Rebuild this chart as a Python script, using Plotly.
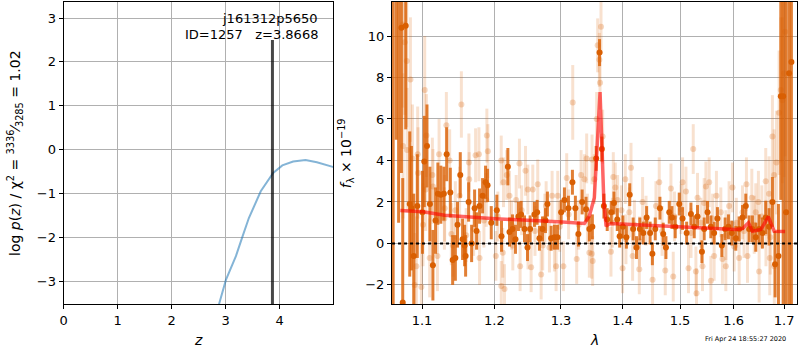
import numpy as np
import plotly.graph_objects as go

# ---------------- data ----------------
pz_z = [2.80, 2.881, 3.005, 3.19, 3.31, 3.43, 3.65, 3.88, 4.05, 4.25, 4.48, 4.69, 5.0]
pz_logp = [-4.10, -3.51, -2.97, -2.43, -1.99, -1.56, -0.95, -0.53, -0.36, -0.27, -0.235, -0.29, -0.40]
z_best = 3.8668
z_line_top = 2.5
left_xticks = [0, 1, 2, 3, 4]
left_yticks = [-3, -2, -1, 0, 1, 2, 3]

dark_wave = [1.0625, 1.0665, 1.0695, 1.0731, 1.0748, 1.0787, 1.0839, 1.0861, 1.0891, 1.0938,
             1.1006, 1.1030, 1.1066, 1.1105, 1.1145, 1.1181, 1.1212, 1.1252, 1.1293, 1.1331,
             1.1381, 1.1413, 1.1450, 1.1480, 1.1518, 1.1550, 1.1578, 1.1592, 1.1634, 1.1676,
             1.1718, 1.1746, 1.1788, 1.1831, 1.1873, 1.1902, 1.1955, 1.2035, 1.2103, 1.2196,
             1.2220, 1.2264, 1.2308, 1.2352, 1.2392, 1.2442, 1.2487, 1.2527, 1.2592, 1.2633,
             1.2668, 1.2714, 1.2760, 1.2790, 1.2847, 1.2898, 1.2945, 1.3003, 1.3054, 1.3117,
             1.3180, 1.3227, 1.3275, 1.3335, 1.3398, 1.3451, 1.3500, 1.3562, 1.3617, 1.3655,
             1.3688, 1.3743, 1.3810, 1.3855, 1.3910, 1.3950, 1.4005, 1.4063, 1.4120, 1.4178,
             1.4235, 1.4293, 1.4352, 1.4410, 1.4470, 1.4510, 1.4560, 1.4642, 1.4700, 1.4748,
             1.4807, 1.4855, 1.4914, 1.4986, 1.5046, 1.5120, 1.5198, 1.5258, 1.5319, 1.5400,
             1.5442, 1.5504, 1.5566, 1.5628, 1.5690, 1.5773, 1.5836, 1.5899, 1.5963, 1.6040,
             1.6105, 1.6170, 1.6234, 1.6299, 1.6364, 1.6430, 1.6496, 1.6562, 1.6628, 1.6695,
             1.6762, 1.6816, 1.6884, 1.6932, 1.6980, 1.7040, 1.7101, 1.7149]
dark_flux = [14.0, 12.5, 13.0, 10.4, -2.85, 10.5, 1.9, 1.7, -0.6, 1.8,
             1.5, 3.95, 4.7, 1.9, -1.05, 1.1, 2.4, 2.35, 2.4, 4.3,
             2.45, -0.8, -0.7, 0.9, 3.3, 0.2, -0.1, -0.6, 2.0, 0.0,
             1.7, 0.6, 1.8, 2.3, 2.95, 2.8, 1.0, 1.6, 0.35, 3.7,
             0.55, 0.7, 0.2, 1.3, 1.4, 0.7, -0.2, 0.7, 1.4, 1.5,
             0.25, 0.7, 1.1, 1.9, 0.25, 0.3, 0.3, 1.5, 2.1, 1.7,
             2.95, 1.7, 0.45, 2.0, 1.65, 0.7, 0.8, 4.1, 9.2, 4.55,
             1.8, 1.15, 1.5, 1.95, 1.15, 0.35, 0.8, 0.3, 2.35, 0.7,
             -0.2, 0.7, 0.5, 1.25, 0.5, -0.5, 0.7, 1.7, 0.45, -0.2,
             1.5, 1.25, 0.8, 1.9, 1.2, 0.5, 1.42, 0.8, 1.3, -0.4,
             0.7, 1.5, 0.8, 0.5, 1.2, -0.1, 0.7, 0.8, 0.5, 0.25,
             0.7, 1.25, 1.8, 0.7, 0.7, 0.3, 0.7, 0.5, 1.25, 0.8,
             2.0, -1.0, -0.6, 7.1, 7.1, 1.5, 8.2, 8.75]
dark_err = [20, 7.5, 12, 7, 6, 5, 3.5, 3.0, 3.0, 2.5,
            2.0, 2.2, 2.0, 1.8, 1.7, 1.6, 1.5, 1.4, 1.3, 1.3,
            1.2, 1.2, 1.1, 1.1, 1.1, 1.0, 1.0, 1.0, 0.95, 0.9,
            0.9, 0.9, 0.85, 0.85, 0.8, 0.8, 0.8, 0.75, 0.75, 0.9,
            0.7, 0.7, 0.7, 0.7, 0.65, 0.65, 0.65, 0.65, 0.6, 0.6,
            0.6, 0.6, 0.6, 0.6, 0.6, 0.6, 0.6, 0.6, 0.6, 0.6,
            0.6, 0.6, 0.6, 0.6, 0.6, 0.6, 0.6, 0.6, 0.65, 0.6,
            0.6, 0.55, 0.55, 0.55, 0.55, 0.55, 0.55, 0.55, 0.55, 0.55,
            0.55, 0.55, 0.55, 0.55, 0.55, 0.55, 0.55, 0.55, 0.55, 0.55,
            0.55, 0.55, 0.55, 0.55, 0.55, 0.55, 0.55, 0.55, 0.55, 0.55,
            0.55, 0.55, 0.55, 0.55, 0.55, 0.55, 0.55, 0.6, 0.6, 0.6,
            0.6, 0.6, 0.6, 0.65, 0.65, 0.7, 0.7, 0.75, 0.8, 0.9,
            1.2, 1.6, 2.5, 5, 12, 14, 12, 15]

light_wave = [1.0748, 1.0774, 1.0800, 1.0848, 1.0752, 1.0805, 1.0874, 1.0904, 1.0926, 1.0943,
              1.0948, 1.0992, 1.1013, 1.1036, 1.1049, 1.1058, 1.1102, 1.1138, 1.1146, 1.1206,
              1.1228, 1.1304, 1.1327, 1.1372, 1.1395, 1.1417, 1.1509, 1.1533, 1.1638, 1.1642,
              1.1704, 1.1732, 1.1779, 1.1788, 1.1883, 1.1892, 1.1906, 1.2021, 1.2099, 1.2100,
              1.2122, 1.2132, 1.2147, 1.2180, 1.2220, 1.2269, 1.2318, 1.2367, 1.2377, 1.2457,
              1.2492, 1.2495, 1.2542, 1.2567, 1.2642, 1.2694, 1.2718, 1.2770, 1.2821, 1.2862,
              1.2898, 1.2924, 1.2950, 1.3038, 1.3090, 1.3185, 1.3248, 1.3318, 1.3371, 1.3408,
              1.3451, 1.3495, 1.3490, 1.3505, 1.3532, 1.3570, 1.3586, 1.3614, 1.3625, 1.3641,
              1.3668, 1.3805, 1.3844, 1.3877, 1.3915, 1.3999, 1.4045, 1.4056, 1.4113, 1.4142,
              1.4169, 1.4283, 1.4287, 1.4340, 1.4513, 1.4572, 1.4630, 1.4736, 1.4837, 1.4878,
              1.5016, 1.5046, 1.5107, 1.5154, 1.5240, 1.5289, 1.5300, 1.5319, 1.5411, 1.5442,
              1.5474, 1.5535, 1.5567, 1.5628, 1.5671, 1.5754, 1.5785, 1.5849, 1.5912, 1.5976,
              1.6008, 1.6105, 1.6170, 1.6247, 1.6267, 1.6352, 1.6430, 1.6482, 1.6496, 1.6628,
              1.6632, 1.6695, 1.6709, 1.6762, 1.6796, 1.6800, 1.6843, 1.6897, 1.6932, 1.6965,
              1.6999, 1.7020,
              1.1300, 1.1450, 1.1600, 1.1850, 1.2050, 1.2250, 1.2400, 1.2600, 1.2750, 1.2980,
              1.3120, 1.3280, 1.3420, 1.3830, 1.3980, 1.4200, 1.4400, 1.4680, 1.4900, 1.5200,
              1.5380, 1.5600, 1.5850, 1.6050, 1.6200, 1.6400, 1.6550, 1.6720]
light_flux = [10.55, 9.7, 8.8, 7.9, 4.7, 4.5, 4.1, -2.0, -1.1, 4.3,
              3.4, -2.1, 0.9, 7.4, 2.6, 5.2, -0.7, 3.3, 2.75, -0.6,
              4.3, 1.7, 5.7, 4.0, 0.45, -0.1, 2.3, 6.7, 3.9, 3.1,
              0.7, 4.25, 4.3, -0.7, 2.1, 5.2, 4.45, -0.6, 4.0, -2.05,
              -0.45, 2.95, -2.2, 3.3, 2.3, -0.1, 2.1, 3.85, -1.1, 3.5,
              2.6, -0.05, -1.15, 2.6, 2.85, -1.5, -0.1, 1.8, -0.2, 2.3,
              -0.15, -1.1, 2.3, -1.1, 3.15, 6.8, -0.75, 3.3, 3.1, 4.1,
              -0.45, 4.05, -0.5, -0.85, 3.1, 6.0, 9.55, 8.85, 7.75, 10.45,
              5.15, -0.4, 3.2, 2.7, 2.1, -1.2, 3.1, 0.2, 1.5, 3.65,
              -0.6, -1.25, 0.1, 2.0, -1.75, 1.8, 2.95, -1.3, 2.65, -1.6,
              1.65, 2.95, 2.5, -1.2, 4.55, -1.35, -2.4, 2.2, -1.1, 1.95,
              2.75, 2.95, -1.8, -0.6, 2.3, 1.5, -0.75, -1.1, 1.8, 2.7,
              -0.15, -0.7, 1.5, 2.85, -0.6, 2.2, 1.5, 2.0, -1.35, 3.0,
              0.5, 2.4, -0.7, 5.15, 3.3, -1.1, 3.9, 6.3, 7.4, 6.9,
              8.2, 10.2,
              1.2, 1.6, 0.4, 1.1, 1.3, 0.9, 1.6, 0.6, 1.2, 0.8,
              1.4, 0.9, 1.2, 1.0, 1.6, 0.9, 1.1, 0.6, 1.3, 0.5,
              1.0, 1.2, 0.4, 1.0, 0.6, 0.9, 1.3, 0.3]
light_err = [4.0, 3.5, 3.2, 3.0, 3.5, 3.0, 2.6, 2.5, 2.4, 2.3,
             2.2, 2.1, 2.0, 2.6, 2.0, 2.0, 1.9, 1.8, 1.8, 1.7,
             1.7, 1.6, 1.6, 1.5, 1.5, 1.5, 1.4, 1.6, 1.4, 1.3,
             1.3, 1.3, 1.3, 1.3, 1.3, 1.3, 1.3, 1.2, 1.2, 1.2,
             1.2, 1.2, 1.2, 1.2, 1.2, 1.2, 1.2, 1.2, 1.2, 1.2,
             1.2, 1.2, 1.2, 1.2, 1.2, 1.2, 1.2, 1.2, 1.2, 1.2,
             1.2, 1.2, 1.2, 1.2, 1.2, 1.8, 1.2, 1.2, 1.2, 1.2,
             1.2, 1.2, 1.2, 1.2, 1.2, 1.3, 1.3, 1.3, 1.3, 1.3,
             1.3, 1.2, 1.2, 1.2, 1.2, 1.2, 1.2, 1.2, 1.2, 1.2,
             1.2, 1.2, 1.2, 1.2, 1.2, 1.2, 1.2, 1.2, 1.2, 1.2,
             1.2, 1.2, 1.2, 1.2, 1.2, 1.2, 1.2, 1.2, 1.2, 1.2,
             1.2, 1.2, 1.2, 1.2, 1.2, 1.2, 1.2, 1.2, 1.2, 1.2,
             1.2, 1.3, 1.3, 1.3, 1.3, 1.4, 1.4, 1.5, 1.5, 1.6,
             1.6, 1.8, 1.8, 2.0, 2.2, 2.2, 2.5, 3.0, 3.5, 4.0,
             5.0, 6.0,
             1.5, 1.4, 1.3, 1.3, 1.2, 1.2, 1.2, 1.2, 1.2, 1.2,
             1.2, 1.2, 1.2, 1.2, 1.2, 1.2, 1.2, 1.2, 1.2, 1.2,
             1.2, 1.2, 1.2, 1.2, 1.3, 1.4, 1.5, 1.8]

model_wave = [1.0717, 1.1013, 1.1304, 1.2017, 1.3022, 1.3371, 1.3451, 1.3532, 1.3580,
              1.3625, 1.3655, 1.3688, 1.3725, 1.3764, 1.3810, 1.4698, 1.5289, 1.6040,
              1.6170, 1.6286, 1.6364, 1.6530, 1.6680, 1.6796, 1.7019]
model_flux = [1.59, 1.53, 1.36, 1.19, 1.03, 0.96, 1.32, 2.2, 4.8,
              7.3, 4.8, 1.96, 0.83, 0.92, 0.96, 0.83, 0.74, 0.67,
              0.71, 1.0, 0.59, 0.67, 1.29, 0.59, 0.58]

right_xticks = [1.1, 1.2, 1.3, 1.4, 1.5, 1.6, 1.7]
right_xticktext = ["1.1", "1.2", "1.3", "1.4", "1.5", "1.6", "1.7"]
right_yticks = [-2, 0, 2, 4, 6, 8, 10]

obj_name = "j161312p5650"
obj_info = "ID=1257\u00a0\u00a0\u00a0z=3.8668"
timestamp = "Fri Apr 24 18:55:27 2020"

# ---------------- figure ----------------
W, H = 800, 350
FONT = "DejaVu Sans"
ORANGE = "rgb(217,95,2)"

fig = go.Figure()

# left panel
fig.add_trace(go.Scatter(x=pz_z, y=pz_logp, mode="lines",
                         line=dict(color="rgba(31,119,180,0.55)", width=2),
                         xaxis="x", yaxis="y", showlegend=False, hoverinfo="skip"))
fig.add_trace(go.Scatter(x=[z_best, z_best], y=[-10, z_line_top], mode="lines",
                         line=dict(color="rgba(0,0,0,0.72)", width=3),
                         xaxis="x", yaxis="y", showlegend=False, hoverinfo="skip"))

# right panel
fig.add_trace(go.Scatter(x=light_wave, y=light_flux, mode="markers",
                         marker=dict(color="rgba(217,95,2,0.25)", size=6, line=dict(width=0)),
                         error_y=dict(type="data", array=light_err, visible=True,
                                      color="rgba(217,95,2,0.19)", thickness=3, width=0),
                         xaxis="x2", yaxis="y2", showlegend=False, hoverinfo="skip"))
fig.add_trace(go.Scatter(x=dark_wave, y=dark_flux, mode="markers",
                         marker=dict(color=ORANGE, size=6, line=dict(width=0)),
                         error_y=dict(type="data", array=dark_err, visible=True,
                                      color="rgba(217,95,2,0.8)", thickness=3, width=0),
                         xaxis="x2", yaxis="y2", showlegend=False, hoverinfo="skip"))
fig.add_trace(go.Scatter(x=model_wave, y=model_flux, mode="lines",
                         line=dict(color="rgba(255,0,0,0.6)", width=3.5),
                         xaxis="x2", yaxis="y2", showlegend=False, hoverinfo="skip"))

# axis domains from the pixel frame
lx0, lx1 = 60 / W, 331 / W
rx0, rx1 = 390 / W, 797 / W
y0, y1 = 1 - 304 / H, 1 - 2 / H

axis_common = dict(showgrid=True, gridcolor="#b0b0b0", gridwidth=1, zeroline=False,
                   showline=True, linecolor="black", linewidth=1.2, mirror=True,
                   ticks="outside", ticklen=4, tickcolor="black", tickwidth=1,
                   tickfont=dict(family=FONT, size=13, color="black"))

fig.update_layout(
    width=W, height=H, autosize=False,
    margin=dict(l=0, r=0, t=0, b=0),
    paper_bgcolor="white", plot_bgcolor="white",
    font=dict(family=FONT, size=13, color="black"),
    xaxis=dict(domain=[lx0, lx1], range=[0, 4.995], tickvals=left_xticks, anchor="y", **axis_common),
    yaxis=dict(domain=[y0, y1], range=[-3.52, 3.365], tickvals=left_yticks,
               ticktext=["\u22123", "\u22122", "\u22121", "0", "1", "2", "3"],
               anchor="x", **axis_common),
    xaxis2=dict(domain=[rx0, rx1], type="log",
                range=[np.log10(1.0611), np.log10(1.7265)],
                tickvals=right_xticks, ticktext=right_xticktext, anchor="y2", **axis_common),
    yaxis2=dict(domain=[y0, y1], range=[-2.92, 11.64], tickvals=right_yticks,
                ticktext=["\u22122", "0", "2", "4", "6", "8", "10"],
                anchor="x2", **axis_common),
)

# dotted zero line across right panel
fig.add_shape(type="line", xref="x2 domain", yref="y2", x0=0, x1=1, y0=0, y1=0,
              line=dict(color="black", width=2, dash="dot"))

ann = []
ann.append(dict(text=obj_name, xref="x", yref="paper", x=4.756, y=1 - 19 / H,
                xanchor="right", yanchor="middle", showarrow=False,
                font=dict(family=FONT, size=13, color="black")))
ann.append(dict(text=obj_info, xref="x", yref="paper", x=4.756, y=1 - 35 / H,
                xanchor="right", yanchor="middle", showarrow=False,
                font=dict(family=FONT, size=13, color="black")))
ann.append(dict(text="<i>z</i>", xref="paper", yref="paper", x=(lx0 + lx1) / 2, y=1 - 340 / H,
                xanchor="center", yanchor="middle", showarrow=False,
                font=dict(family=FONT, size=14, color="black")))
ann.append(dict(text="<i>\u03bb</i>", xref="paper", yref="paper", x=(rx0 + rx1) / 2, y=1 - 340 / H,
                xanchor="center", yanchor="middle", showarrow=False,
                font=dict(family=FONT, size=14, color="black")))
ann.append(dict(text="log <i>p</i>(<i>z</i>) / \u03c7<sup>2</sup> = <sup>3336</sup>\u2044<sub>3285</sub> = 1.02",
                xref="paper", yref="paper", x=11 / W, y=1 - 153 / H, textangle=-90,
                xanchor="center", yanchor="middle", showarrow=False,
                font=dict(family=FONT, size=14, color="black")))
ann.append(dict(text="<i>f</i><sub>\u03bb</sub> \u00d7 10<sup>\u221219</sup>",
                xref="paper", yref="paper", x=344 / W, y=1 - 153 / H, textangle=-90,
                xanchor="center", yanchor="middle", showarrow=False,
                font=dict(family=FONT, size=14, color="black")))
ann.append(dict(text=timestamp, xref="paper", yref="paper", x=788 / W, y=1 - 339 / H,
                xanchor="right", yanchor="middle", showarrow=False,
                font=dict(family=FONT, size=6.5, color="black")))
fig.update_layout(annotations=ann)

fig.write_html("out.html")
